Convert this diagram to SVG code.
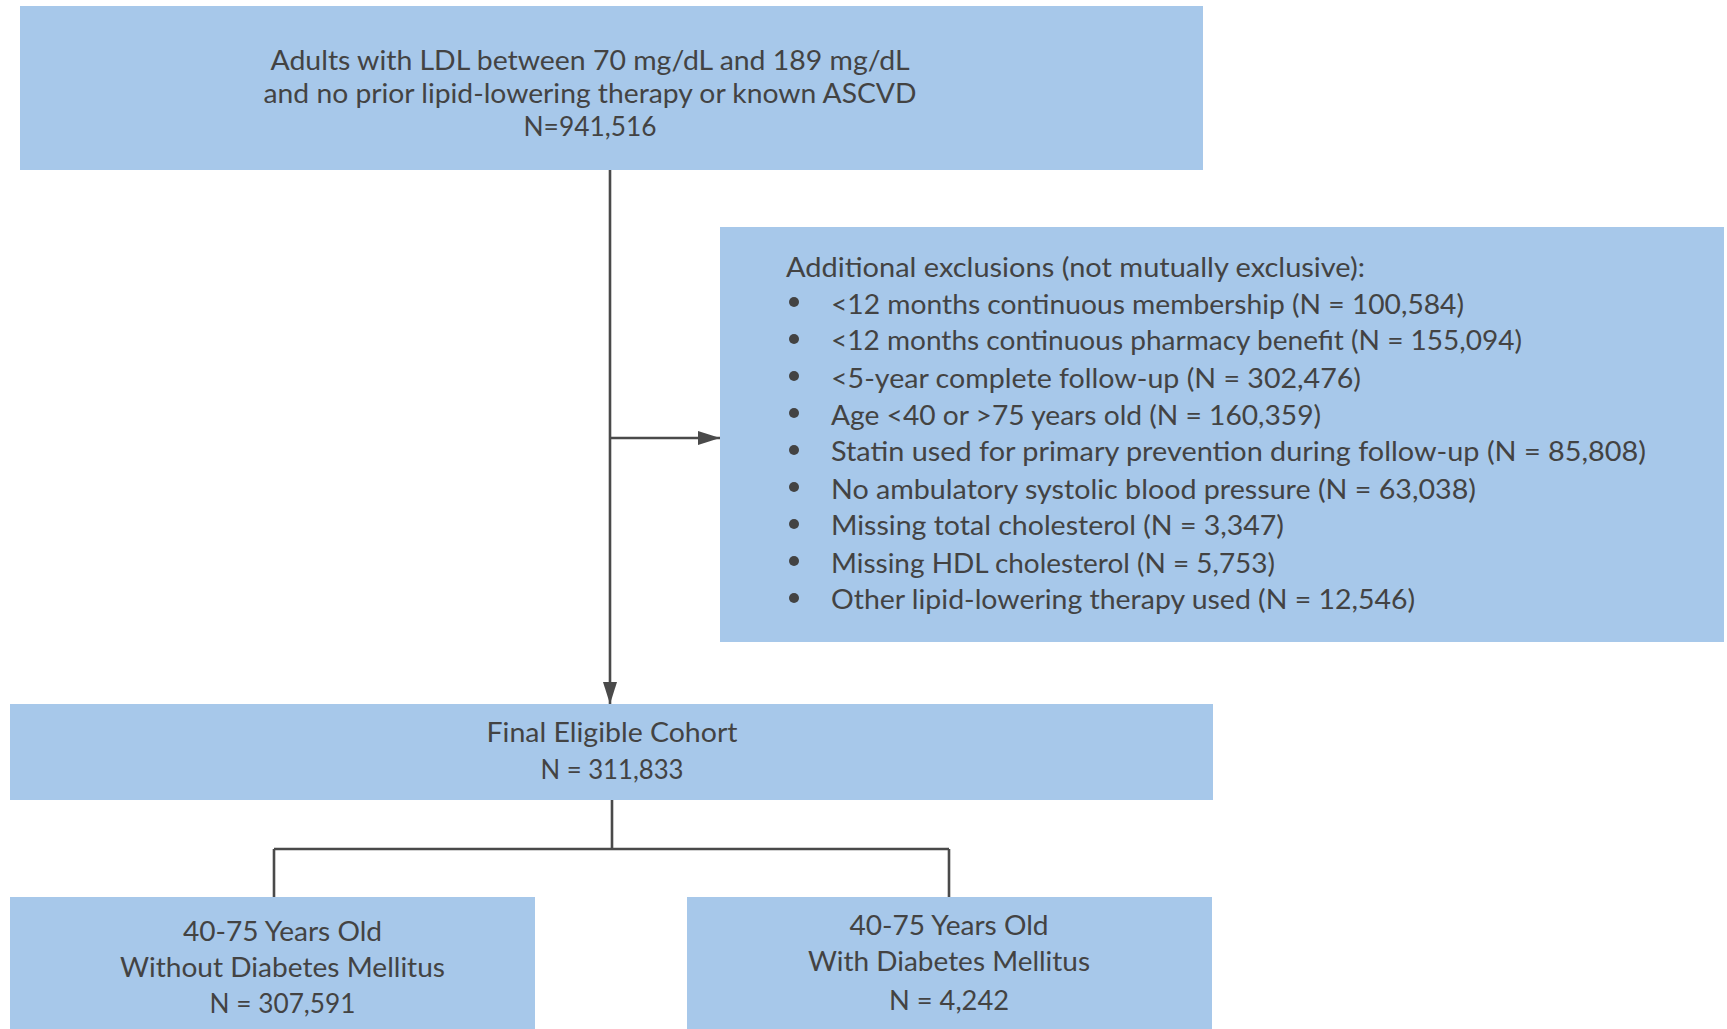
<svg xmlns="http://www.w3.org/2000/svg" width="1727" height="1029" viewBox="0 0 1727 1029">
<defs>
<style>
.box{fill:#a7c8ea;}
.t{font-family:Lato,"Open Sans","Liberation Sans",sans-serif;font-size:27px;fill:#434343;}
.c{text-anchor:middle;}
.ln{stroke:#4a4a4a;stroke-width:2.6;fill:none;}
.bul{fill:#434343;}
</style>
<marker id="ah" viewBox="0 0 22 14" refX="22" refY="7" markerWidth="22" markerHeight="14" markerUnits="userSpaceOnUse" orient="auto">
<path d="M0 0 L22 7 L0 14 Z" fill="#4a4a4a"/>
</marker>
</defs>
<rect width="1727" height="1029" fill="#ffffff"/>
<g id="connectors">
<path class="ln" d="M610 170 V704" marker-end="url(#ah)"/>
<path class="ln" d="M610 438 H720" marker-end="url(#ah)"/>
<path class="ln" d="M612 800 V849 M274 849 H949 M274 849 V897 M949 849 V897"/>
</g>
<g id="node-top">
<rect class="box" x="20" y="6" width="1183" height="164"/>
<text class="t c" x="590" y="69.5" textLength="639" lengthAdjust="spacingAndGlyphs">Adults with LDL between 70 mg/dL and 189 mg/dL</text>
<text class="t c" x="590" y="102.5" textLength="653" lengthAdjust="spacingAndGlyphs">and no prior lipid-lowering therapy or known ASCVD</text>
<text class="t c" x="590" y="135.5" textLength="133" lengthAdjust="spacingAndGlyphs">N=941,516</text>
</g>
<g id="node-exclusions">
<rect class="box" x="720" y="227" width="1004" height="415"/>
<text class="t" x="786" y="276.5" textLength="579" lengthAdjust="spacingAndGlyphs">Additional exclusions (not mutually exclusive):</text>
<circle class="bul" cx="794" cy="302" r="5"/>
<text class="t" x="831" y="313.5" textLength="633" lengthAdjust="spacingAndGlyphs">&lt;12 months continuous membership (N = 100,584)</text>
<circle class="bul" cx="794" cy="339" r="5"/>
<text class="t" x="831" y="349.5" textLength="691" lengthAdjust="spacingAndGlyphs">&lt;12 months continuous pharmacy benefit (N = 155,094)</text>
<circle class="bul" cx="794" cy="376" r="5"/>
<text class="t" x="831" y="387.5" textLength="530" lengthAdjust="spacingAndGlyphs">&lt;5-year complete follow-up (N = 302,476)</text>
<circle class="bul" cx="794" cy="413" r="5"/>
<text class="t" x="831" y="424.5" textLength="490" lengthAdjust="spacingAndGlyphs">Age &lt;40 or &gt;75 years old (N = 160,359)</text>
<circle class="bul" cx="794" cy="450" r="5"/>
<text class="t" x="831" y="460.5" textLength="815" lengthAdjust="spacingAndGlyphs">Statin used for primary prevention during follow-up (N = 85,808)</text>
<circle class="bul" cx="794" cy="487" r="5"/>
<text class="t" x="831" y="498.5" textLength="645" lengthAdjust="spacingAndGlyphs">No ambulatory systolic blood pressure (N = 63,038)</text>
<circle class="bul" cx="794" cy="524" r="5"/>
<text class="t" x="831" y="534.5" textLength="453" lengthAdjust="spacingAndGlyphs">Missing total cholesterol (N = 3,347)</text>
<circle class="bul" cx="794" cy="561" r="5"/>
<text class="t" x="831" y="572.5" textLength="444" lengthAdjust="spacingAndGlyphs">Missing HDL cholesterol (N = 5,753)</text>
<circle class="bul" cx="794" cy="598" r="5"/>
<text class="t" x="831" y="608.5" textLength="584" lengthAdjust="spacingAndGlyphs">Other lipid-lowering therapy used (N = 12,546)</text>
</g>
<g id="node-final">
<rect class="box" x="10" y="704" width="1203" height="96"/>
<text class="t c" x="612" y="741.5" textLength="251" lengthAdjust="spacingAndGlyphs">Final Eligible Cohort</text>
<text class="t c" x="612" y="778.5" textLength="143" lengthAdjust="spacingAndGlyphs">N = 311,833</text>
</g>
<g id="node-no-dm">
<rect class="box" x="10" y="897" width="525" height="132"/>
<text class="t c" x="282.5" y="940.5" textLength="199" lengthAdjust="spacingAndGlyphs">40-75 Years Old</text>
<text class="t c" x="282.5" y="976.5" textLength="325" lengthAdjust="spacingAndGlyphs">Without Diabetes Mellitus</text>
<text class="t c" x="282.5" y="1012.5" textLength="146" lengthAdjust="spacingAndGlyphs">N = 307,591</text>
</g>
<g id="node-dm">
<rect class="box" x="687" y="897" width="525" height="132"/>
<text class="t c" x="949" y="934.5" textLength="199" lengthAdjust="spacingAndGlyphs">40-75 Years Old</text>
<text class="t c" x="949" y="970.5" textLength="282" lengthAdjust="spacingAndGlyphs">With Diabetes Mellitus</text>
<text class="t c" x="949" y="1009.5" textLength="120" lengthAdjust="spacingAndGlyphs">N = 4,242</text>
</g>
</svg>
